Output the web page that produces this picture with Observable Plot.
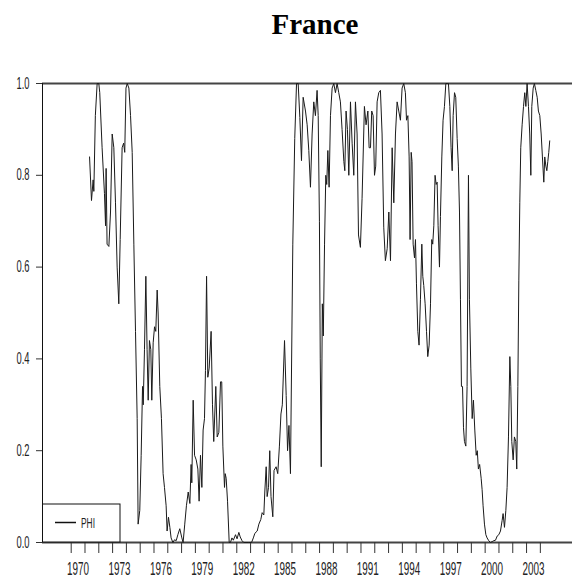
<!DOCTYPE html>
<html>
<head>
<meta charset="utf-8">
<script src="https://cdn.jsdelivr.net/npm/d3@7"></script>
<script src="https://cdn.jsdelivr.net/npm/@observablehq/plot@0.6"></script>
<style>
  body { margin: 0; background: #fff; }
  #wrap { position: relative; width: 572px; height: 578px; overflow: hidden; background: #fff; }
  #title { height: 42px; padding-top: 2px; padding-left: 58px; box-sizing: content-box;
           font: bold 29px "Liberation Serif", "Times New Roman", serif; line-height: 44px;
           text-align: center; color: #000; }
  #chart svg { display: block; }
</style>
</head>
<body>
<div id="wrap">
  <div id="title"></div>
  <div id="chart"></div>
</div>
<script>
const chartTitle = "France";
const seriesName = "PHI";

const years = [
  1971.33,1971.47,1971.59,1971.64,1971.75,1971.88,1972.00,1972.07,1972.24,1972.41,
  1972.49,1972.53,1972.60,1972.73,1972.85,1972.97,1973.09,1973.21,1973.33,1973.45,
  1973.55,1973.69,1973.80,1973.88,1973.97,1974.06,1974.18,1974.30,1974.42,1974.54,
  1974.66,1974.78,1974.85,1974.97,1975.07,1975.17,1975.22,1975.31,1975.41,1975.50,
  1975.58,1975.67,1975.77,1975.84,1975.94,1976.04,1976.13,1976.23,1976.30,1976.42,
  1976.54,1976.66,1976.76,1976.88,1976.95,1977.05,1977.15,1977.24,1977.37,1977.49,
  1977.61,1977.73,1977.87,1978.02,1978.11,1978.23,1978.35,1978.48,1978.60,1978.69,
  1978.74,1978.84,1978.94,1979.06,1979.18,1979.27,1979.37,1979.47,1979.56,1979.66,
  1979.73,1979.81,1979.90,1980.00,1980.14,1980.24,1980.33,1980.48,1980.58,1980.70,
  1980.82,1980.91,1980.99,1981.11,1981.16,1981.23,1981.33,1981.45,1981.54,1981.65,
  1981.75,1981.91,1982.02,1982.15,1982.25,1982.38,1982.51,1982.87,1983.07,1983.20,
  1983.31,1983.48,1983.60,1983.74,1983.84,1983.96,1984.03,1984.13,1984.20,1984.30,
  1984.39,1984.48,1984.61,1984.70,1984.85,1984.97,1985.09,1985.20,1985.30,1985.46,
  1985.58,1985.68,1985.78,1985.89,1986.06,1986.20,1986.33,1986.45,1986.57,1986.69,
  1986.81,1986.98,1987.10,1987.22,1987.34,1987.46,1987.58,1987.70,1987.82,1987.90,
  1987.99,1988.05,1988.12,1988.20,1988.27,1988.36,1988.45,1988.52,1988.60,1988.69,
  1988.79,1988.91,1989.03,1989.15,1989.27,1989.39,1989.51,1989.63,1989.76,1989.83,
  1989.92,1990.02,1990.12,1990.24,1990.36,1990.48,1990.60,1990.72,1990.82,1990.96,
  1991.08,1991.25,1991.37,1991.50,1991.59,1991.69,1991.78,1991.88,1991.98,1992.07,
  1992.17,1992.29,1992.41,1992.53,1992.65,1992.77,1992.90,1993.02,1993.14,1993.26,
  1993.38,1993.50,1993.62,1993.74,1993.86,1993.98,1994.10,1994.22,1994.30,1994.40,
  1994.49,1994.56,1994.64,1994.70,1994.78,1994.88,1994.95,1995.02,1995.12,1995.21,
  1995.31,1995.41,1995.48,1995.55,1995.65,1995.75,1995.84,1995.94,1996.04,1996.13,
  1996.20,1996.28,1996.37,1996.45,1996.52,1996.59,1996.69,1996.76,1996.86,1996.95,
  1997.05,1997.15,1997.25,1997.34,1997.44,1997.53,1997.61,1997.68,1997.78,1997.87,
  1997.97,1998.06,1998.14,1998.21,1998.28,1998.36,1998.43,1998.50,1998.60,1998.69,
  1998.79,1998.86,1998.96,1999.06,1999.15,1999.25,1999.35,1999.43,1999.51,1999.60,
  1999.71,1999.78,1999.85,1999.95,2000.05,2000.14,2000.26,2000.38,2000.51,2000.63,
  2000.75,2000.87,2000.99,2001.11,2001.23,2001.30,2001.40,2001.50,2001.59,2001.69,
  2001.79,2001.86,2001.93,2002.03,2002.12,2002.22,2002.29,2002.37,2002.44,2002.51,
  2002.58,2002.68,2002.78,2002.87,2002.95,2003.04,2003.14,2003.23,2003.31,2003.38,
  2003.48,2003.57,2003.67,2003.77,2003.86,2003.96,2004.06,2004.15,2004.25,2004.32,
  2004.40,2004.47,2004.54,2004.61,2004.68
];

const phi = [
  0.84,0.745,0.79,0.765,0.93,1.0,1.0,0.98,0.86,0.76,
  0.69,0.815,0.65,0.645,0.72,0.89,0.86,0.74,0.60,0.52,
  0.66,0.86,0.87,0.85,0.99,1.0,0.99,0.93,0.85,0.65,
  0.46,0.27,0.04,0.07,0.19,0.34,0.30,0.42,0.58,0.42,
  0.31,0.44,0.42,0.31,0.435,0.47,0.46,0.55,0.50,0.34,
  0.27,0.15,0.12,0.08,0.025,0.055,0.033,0.01,0.0,0.006,
  0.004,0.017,0.03,0.01,0.0,0.04,0.08,0.11,0.085,0.17,
  0.13,0.31,0.19,0.18,0.16,0.09,0.19,0.12,0.245,0.27,
  0.375,0.58,0.36,0.38,0.46,0.30,0.22,0.34,0.23,0.24,
  0.35,0.35,0.21,0.12,0.15,0.14,0.09,0.0,0.0,0.01,
  0.005,0.017,0.008,0.022,0.012,0.004,0.0,0.0,0.0,0.01,
  0.02,0.025,0.04,0.05,0.065,0.06,0.11,0.165,0.10,0.12,
  0.20,0.10,0.056,0.157,0.165,0.15,0.21,0.28,0.30,0.44,
  0.32,0.20,0.255,0.15,0.65,0.88,1.0,1.0,0.926,0.832,
  0.97,0.94,0.91,0.854,0.774,0.89,0.96,0.93,0.985,0.93,
  0.70,0.40,0.165,0.52,0.45,0.65,0.80,0.78,0.854,0.774,
  0.93,0.99,1.0,0.98,1.0,0.98,0.96,0.90,0.83,0.81,
  0.94,0.90,0.80,0.96,0.87,0.80,0.96,0.89,0.67,0.643,
  0.75,0.95,0.91,0.94,0.86,0.86,0.94,0.93,0.80,0.82,
  0.96,0.98,0.985,0.89,0.687,0.614,0.64,0.72,0.614,0.86,
  0.74,0.89,0.96,0.94,0.92,0.99,1.0,0.98,0.92,0.93,
  0.84,0.66,0.85,0.83,0.65,0.62,0.66,0.565,0.46,0.43,
  0.53,0.65,0.58,0.56,0.52,0.46,0.405,0.43,0.52,0.66,
  0.65,0.69,0.80,0.78,0.785,0.69,0.60,0.71,0.84,0.92,
  0.95,1.0,1.0,1.0,0.95,0.86,0.81,0.93,0.98,0.97,
  0.88,0.82,0.72,0.53,0.34,0.34,0.25,0.22,0.21,0.34,
  0.80,0.53,0.38,0.27,0.31,0.245,0.19,0.20,0.16,0.17,
  0.14,0.115,0.08,0.04,0.017,0.01,0.004,0.0,0.002,0.004,
  0.005,0.014,0.017,0.025,0.048,0.063,0.033,0.07,0.12,0.23,
  0.405,0.34,0.22,0.18,0.23,0.22,0.16,0.34,0.57,0.74,
  0.86,0.91,0.95,0.98,0.95,1.0,0.95,0.89,0.80,0.95,
  0.99,1.0,0.985,0.97,0.94,0.93,0.89,0.84,0.785,0.84,
  0.82,0.81,0.83,0.85,0.875
];

const tickYears = d3.range(1970, 2005);
const labelYears = d3.range(1970, 2004, 3);
const yTicks = [0, 0.2, 0.4, 0.6, 0.8, 1.0];
const xDomain = [1967.92, 2006.33];

const data = years.map((t, i) => ({t, v: phi[i]}));

document.getElementById("title").textContent = chartTitle;

const chart = Plot.plot({
  width: 572,
  height: 534,
  marginTop: 39,
  marginBottom: 36,
  marginLeft: 42,
  marginRight: 0,
  style: {background: "#fff", fontFamily: "'Liberation Sans', Arial, sans-serif", color: "#222"},
  x: {domain: xDomain},
  y: {domain: [0, 1]},
  marks: [
    Plot.ruleY([0, 1], {stroke: "#444", strokeWidth: 2}),
    Plot.ruleX([xDomain[0]], {y1: 0, y2: 1, stroke: "#111", strokeWidth: 1}),
    Plot.axisY({ticks: yTicks, tickFormat: d => d.toFixed(1), tickSize: 6, tickPadding: 7,
                fontSize: 16, stroke: "#333", label: null}),
    Plot.axisX({ticks: tickYears, tickFormat: () => "", tickSize: 11, stroke: "#333", label: null}),
    Plot.text(labelYears, {x: d => d + 0.5, y: 0, dy: 26, text: d => String(d),
                           fontSize: 19, fill: "#222", lineAnchor: "middle"}),
    Plot.line(data, {x: "t", y: "v", stroke: "#1a1a1a", strokeWidth: 1})
  ]
});

document.getElementById("chart").appendChild(chart);

// condensed look for tick labels
chart.querySelectorAll('g[aria-label="y-axis tick label"] text').forEach(t => {
  t.setAttribute("textLength", 13);
  t.setAttribute("lengthAdjust", "spacingAndGlyphs");
});
chart.querySelectorAll('g[aria-label="text"] text').forEach(t => {
  t.setAttribute("textLength", 22);
  t.setAttribute("lengthAdjust", "spacingAndGlyphs");
});

// legend box in lower-left corner of the frame
const g = d3.select(chart).append("g");
g.append("rect").attr("x", 42.5).attr("y", 460).attr("width", 77.5).attr("height", 38)
  .attr("fill", "#fff").attr("stroke", "#111").attr("stroke-width", 1);
g.append("line").attr("x1", 55).attr("x2", 76).attr("y1", 478.5).attr("y2", 478.5)
  .attr("stroke", "#111").attr("stroke-width", 1.5);
g.append("text").attr("x", 88).attr("y", 478.5).attr("dy", "0.35em")
  .attr("font-size", 15).attr("fill", "#222")
  .attr("textLength", 14).attr("lengthAdjust", "spacingAndGlyphs")
  .text(seriesName);
</script>
</body>
</html>
